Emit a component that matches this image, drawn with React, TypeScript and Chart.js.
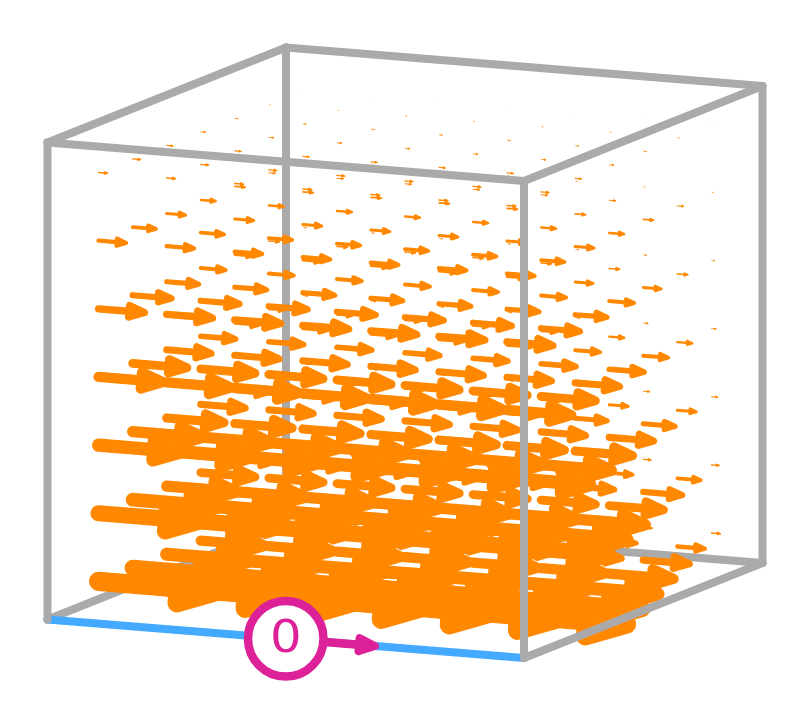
import React, { useEffect, useRef } from "react";
import { Chart, registerables } from "chart.js";

Chart.register(...registerables);

// Grid positions of the arrows inside the unit box, in sevenths of a side.
const columnPositions = [0.5, 1.5, 2.5, 3.5, 4.5, 5.5, 6.5];
const rowPositions = [0.5, 1.5, 2.5, 3.5, 4.5, 5.5, 6.5];
const layerPositions = [0.5, 1.5, 2.5, 3.5, 4.5, 5.5, 6.5];

// Arrow size: one list per row (front to back), one value per layer (bottom to top).
const magnitudeRow0 = [120, 101.5, 83, 64.5, 46, 27.5, 9];
const magnitudeRow1 = [101.5, 86, 70.5, 54.5, 39, 23.5, 8];
const magnitudeRow2 = [83, 70.5, 57.5, 44.5, 32, 19, 6.5];
const magnitudeRow3 = [64.5, 54.5, 44.5, 35, 25, 15, 5];
const magnitudeRow4 = [46, 39, 32, 25, 18, 10.5, 3.5];
const magnitudeRow5 = [27.5, 23.5, 19, 15, 10.5, 6.5, 2];
const magnitudeRow6 = [9, 8, 6.5, 5, 3.5, 2, 0.7];
const magnitudes = [magnitudeRow0, magnitudeRow1, magnitudeRow2, magnitudeRow3, magnitudeRow4, magnitudeRow5, magnitudeRow6];

// Box edges as pairs of corners (x, y, z in 0..1).
type P3 = [number, number, number];
const backEdges: [P3, P3][] = [
  [[0, 0, 0], [0, 1, 0]],
  [[0, 1, 0], [1, 1, 0]],
  [[1, 1, 0], [1, 1, 1]],
  [[0, 1, 0], [0, 1, 1]],
  [[0, 1, 1], [1, 1, 1]],
  [[0, 0, 1], [0, 1, 1]],
];
const frontEdges: [P3, P3][] = [
  [[0, 0, 0], [0, 0, 1]],
  [[0, 0, 1], [1, 0, 1]],
  [[1, 0, 0], [1, 0, 1]],
  [[1, 0, 1], [1, 1, 1]],
  [[1, 0, 0], [1, 1, 0]],
];
const wireEdge: [P3, P3] = [[0, 0, 0], [1, 0, 0]];
const chargeLabel = "0";
const chargePosition: P3 = [0.5, 0, 0];
const chargeArrowLength = 89.5;

const ORANGE = "#ff8800";
const GRAY = "#aaaaaa";
const BLUE = "#44aaff";
const PINK = "#dd2299";

const origin = { x: 47.5, y: 619.5 };
const ex = { x: 476.5, y: 38.5 };
const ey = { x: 238.5, y: -95 };
const ez = { x: 0, y: -477 };
const exLen = Math.hypot(ex.x, ex.y);
const ux = { x: ex.x / exLen, y: ex.y / exLen };

function project([a, b, c]: P3) {
  return {
    x: origin.x + ex.x * a + ey.x * b + ez.x * c,
    y: origin.y + ex.y * a + ey.y * b + ez.y * c,
  };
}

function lineDataset(points: { x: number; y: number }[], color: string, width: number) {
  return {
    data: points,
    showLine: true,
    borderColor: color,
    backgroundColor: color,
    borderWidth: width,
    borderCapStyle: "round",
    borderJoinStyle: "round",
    pointRadius: 0,
    fill: false,
    clip: false,
  };
}

function arrowDatasets(
  tail: { x: number; y: number },
  length: number,
  color: string,
  shaftWidth: number,
  headLength: number,
  headHalf: number,
  headStroke: number
) {
  const at = (along: number, side: number) => ({
    x: tail.x + ux.x * along - ux.y * side,
    y: tail.y + ux.y * along + ux.x * side,
  });
  const base = length - headLength;
  return [
    {
      ...lineDataset([at(base, headHalf), at(length, 0), at(base, -headHalf), at(base, headHalf)], color, headStroke),
      fill: "shape",
    },
    lineDataset([at(0, 0), at(base, 0)], color, shaftWidth),
  ];
}

const labelPlugin = {
  id: "chargeLabel",
  afterDatasetsDraw(chart: any) {
    const p = project(chargePosition);
    const { ctx, scales } = chart;
    ctx.save();
    ctx.translate(scales.x.getPixelForValue(p.x), scales.y.getPixelForValue(p.y + 2.3));
    ctx.scale(1.13, 1);
    ctx.fillStyle = PINK;
    ctx.font = "44px 'DejaVu Sans'";
    ctx.textAlign = "center";
    ctx.textBaseline = "middle";
    ctx.fillText(chargeLabel, 0, 0);
    ctx.restore();
  },
};

export default function App() {
  const ref = useRef<HTMLCanvasElement>(null);
  useEffect(() => {
    const datasets: any[] = [];
    // Chart.js paints the first dataset last, so this list runs from top to bottom.
    const chargeCentre = project(chargePosition);
    datasets.push({
      data: [chargeCentre],
      pointRadius: 37.75,
      pointBorderWidth: 8.5,
      pointBorderColor: PINK,
      pointBackgroundColor: "#ffffff",
      showLine: false,
      clip: false,
    });
    datasets.push(...arrowDatasets(chargeCentre, chargeArrowLength, PINK, 8.5, 16, 6.5, 8));
    frontEdges.forEach(([a, b]) => datasets.push(lineDataset([project(a), project(b)], GRAY, 8)));
    columnPositions.forEach((c) =>
      rowPositions.forEach((r, ri) =>
        layerPositions.forEach((l, li) => {
          const size = magnitudes[ri][li];
          const tail = project([c / 7, r / 7, l / 7]);
          datasets.push(
            ...arrowDatasets(tail, size, ORANGE, size * 0.16, size / 3, size * 0.125, size * 0.16)
          );
        })
      )
    );
    datasets.push(lineDataset([project(wireEdge[0]), project(wireEdge[1])], BLUE, 8));
    backEdges.forEach(([a, b]) => datasets.push(lineDataset([project(a), project(b)], GRAY, 8)));

    const chart = new Chart(ref.current!, {
      type: "scatter",
      data: { datasets },
      options: {
        animation: false,
        responsive: false,
        events: [],
        layout: { padding: 0, autoPadding: false },
        plugins: { legend: { display: false }, tooltip: { enabled: false }, title: { display: false } },
        scales: {
          x: { type: "linear", min: 0, max: 810, display: false },
          y: { type: "linear", min: 0, max: 705, reverse: true, display: false },
        },
      },
      plugins: [labelPlugin],
    } as any);
    return () => chart.destroy();
  }, []);
  return (
    <div style={{ position: "fixed", left: 0, top: 0, width: 810, height: 705, overflow: "hidden", background: "#ffffff" }}>
      <canvas ref={ref} width={810} height={705} style={{ display: "block" }} />
    </div>
  );
}
